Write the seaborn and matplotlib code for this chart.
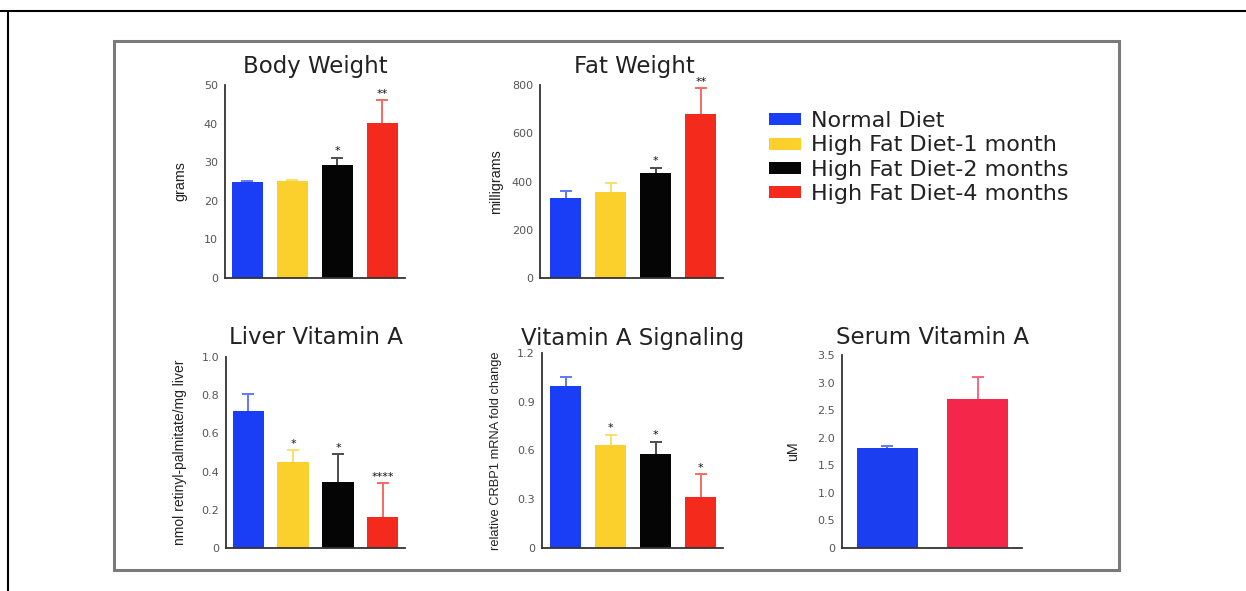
import numpy as np
import matplotlib
matplotlib.use('Agg')
import matplotlib.pyplot as plt
from matplotlib.lines import Line2D
from matplotlib.patches import Rectangle, Patch
import matplotlib.colors as mcolors
import seaborn as sns

# ==========================================
# 1. DATA
# ==========================================
groups = ['Normal Diet', 'High Fat Diet-1 month',
          'High Fat Diet-2 months', 'High Fat Diet-4 months']
group_colors = ['#1a3ef5', '#fbcf2c', '#050505', '#f42a1d']

body_mean = [24.8, 25.1, 29.3, 40.2]
body_err = [0.3, 0.3, 1.9, 5.8]
body_stars = ['', '', '*', '**']

fat_mean = [332, 355, 435, 681]
fat_err = [28, 38, 23, 105]
fat_stars = ['', '', '*', '**']

liver_mean = [0.717, 0.452, 0.348, 0.163]
liver_err = [0.088, 0.06, 0.143, 0.177]
liver_stars = ['', '*', '*', '****']

signal_mean = [0.997, 0.633, 0.581, 0.311]
signal_err = [0.056, 0.065, 0.073, 0.145]
signal_stars = ['', '*', '*', '*']

serum_groups = ['Normal Diet', 'High Fat Diet']
serum_colors = ['#1a3ef0', '#f4264a']
serum_mean = [1.82, 2.70]
serum_err = [0.03, 0.40]

W, H = 1246, 591


def fx(px):
    return px / W


def fy(py):
    return 1 - py / H


def make_ax(fig, x0, x1, y0, y1):
    return fig.add_axes([fx(x0), fy(y1), fx(x1 - x0), (y1 - y0) / H])


def draw_panel(ax, cats, means, errs, colors, stars, ymax, yticks, yticklabels,
               xlim, width, ylabel, ylabel_x, ylabel_size):
    sns.barplot(x=cats, y=means, hue=cats, palette=colors, order=cats,
                hue_order=cats, ax=ax, width=width, saturation=1,
                legend=False, linewidth=0, errorbar=None, zorder=2)
    xs = np.arange(len(cats))
    for x, m, e, c, s in zip(xs, means, errs, colors, stars):
        if c == '#050505':
            light = (0.3, 0.3, 0.3)
        else:
            light = tuple(0.3 + 0.7 * v for v in mcolors.to_rgb(c))
        # upper half only: stem behind the bar, cap only at the top
        ax.errorbar(x, m, yerr=[[0], [e]], fmt='none', ecolor=light,
                    elinewidth=1.4, capsize=0, zorder=1)
        ax.plot([x], [m + e], marker='_', markersize=9, mew=1.4,
                color=light, zorder=1)
        if s:
            ax.annotate(s, (x, m + e), xytext=(0, 1), textcoords='offset points',
                        ha='center', va='bottom', fontsize=8, color='#111')
    ax.set_xlim(*xlim)
    ax.set_ylim(0, ymax)
    ax.set_yticks(yticks)
    ax.set_yticklabels(yticklabels)
    ax.set_xticks([])
    ax.set_xlabel('')
    ax.set_ylabel(ylabel, fontsize=ylabel_size, family=['Liberation Sans', 'DejaVu Sans'],
                  color='#222')
    ax.yaxis.set_label_coords(ylabel_x, 0.5)
    sns.despine(ax=ax)
    for sp in ['left', 'bottom']:
        ax.spines[sp].set_color('#333')
        ax.spines[sp].set_linewidth(1.3)
        ax.spines[sp].set_zorder(3)
    ax.tick_params(axis='y', length=4, width=1.2, color='#333',
                   labelsize=8, labelcolor='#555', pad=1)
    ax.set_facecolor('none')


# ==========================================
# 2. FIGURE
# ==========================================
sns.set_style('white')
plt.rcParams['font.family'] = ['DejaVu Sans']
fig = plt.figure(figsize=(W / 100, H / 100), dpi=100)

# frame lines
fig.add_artist(Line2D([0, 1], [fy(10.5), fy(10.5)], transform=fig.transFigure,
                      color='black', lw=1.5))
fig.add_artist(Line2D([fx(7.5), fx(7.5)], [0, fy(10.5)], transform=fig.transFigure,
                      color='black', lw=1.5))
fig.add_artist(Rectangle((fx(114), fy(570)), fx(1119 - 114), (570 - 41) / H,
                         transform=fig.transFigure, fill=False, ec='#7a7a7a', lw=2.2))

ax1 = make_ax(fig, 225, 405, 85, 278)
draw_panel(ax1, groups, body_mean, body_err, group_colors, body_stars, 50,
           [0, 10, 20, 30, 40, 50], ['0', '10', '20', '30', '40', '50'],
           (-0.49, 3.51), 0.69, 'grams', -0.21, 10.3)

ax2 = make_ax(fig, 540, 723, 85, 278)
draw_panel(ax2, groups, fat_mean, fat_err, group_colors, fat_stars, 800,
           [0, 200, 400, 600, 800], ['0', '200', '400', '600', '800'],
           (-0.57, 3.49), 0.69, 'milligrams', -0.20, 10.3)

ax3 = make_ax(fig, 226, 405, 357, 548)
draw_panel(ax3, groups, liver_mean, liver_err, group_colors, liver_stars, 1.0,
           [0, 0.2, 0.4, 0.6, 0.8, 1.0], ['0', '0.2', '0.4', '0.6', '0.8', '1.0'],
           (-0.49, 3.49), 0.69, 'nmol retinyl-palmitate/mg liver', -0.22, 10.0)

ax4 = make_ax(fig, 542, 723, 353, 548)
draw_panel(ax4, groups, signal_mean, signal_err, group_colors, signal_stars, 1.2,
           [0, 0.3, 0.6, 0.9, 1.2], ['0', '0.3', '0.6', '0.9', '1.2'],
           (-0.53, 3.5), 0.69, 'relative CRBP1 mRNA fold change', -0.22, 9.3)

ax5 = make_ax(fig, 842, 1022, 355, 548)
draw_panel(ax5, serum_groups, serum_mean, serum_err, serum_colors, ['', ''], 3.5,
           [0, 0.5, 1.0, 1.5, 2.0, 2.5, 3.0, 3.5],
           ['0', '0.5', '1.0', '1.5', '2.0', '2.5', '3.0', '3.5'],
           (-0.5, 1.49), 0.67, 'uM', -0.23, 10.3)

# panel titles
titles = [('Body Weight', 315, 67), ('Fat Weight', 634, 67),
          ('Liver Vitamin A', 316, 338), ('Vitamin A Signaling', 633, 338),
          ('Serum Vitamin A', 932, 338)]
for t, x, y in titles:
    fig.text(fx(x), fy(y), t, ha='center', va='center', fontsize=16.5, color='#222')

# legend
handles = [Patch(facecolor=c, edgecolor='none', label=g)
           for g, c in zip(groups, group_colors)]
fig.legend(handles=handles, loc='upper left', bbox_to_anchor=(fx(769), fy(111)),
           frameon=False, fontsize=16, handlelength=1.45, handleheight=0.45,
           handletextpad=0.45, labelspacing=0.2, borderpad=0, borderaxespad=0,
           labelcolor='#222')

plt.savefig('out.png', dpi=100)
